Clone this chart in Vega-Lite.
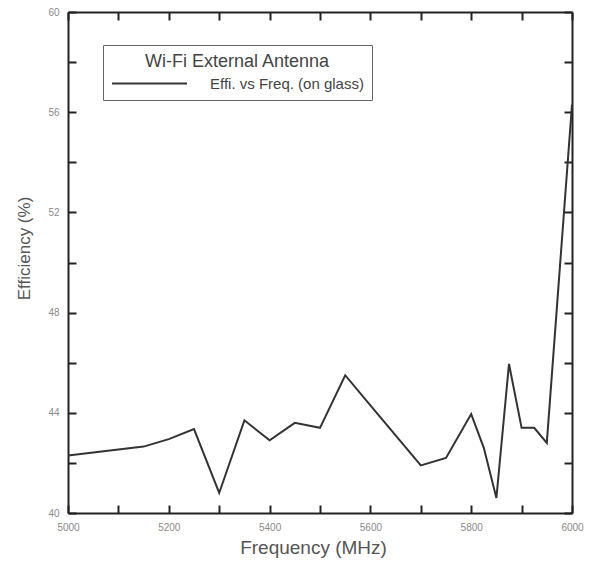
{
  "$schema": "https://vega.github.io/schema/vega-lite/v6.json",
  "autosize": "none",
  "width": 504,
  "height": 501,
  "padding": {"left": 68, "top": 12, "right": 21, "bottom": 53},
  "background": "white",
  "config": {
    "font": "Liberation Sans",
    "view": {"stroke": null},
    "axis": {
      "grid": false,
      "domainColor": "#222",
      "domainWidth": 2,
      "tickColor": "#222",
      "tickWidth": 2,
      "tickSize": -8,
      "labelColor": "#8a8a8a",
      "labelFontSize": 10,
      "labelFlush": false,
      "titleColor": "#555",
      "titleFontSize": 16,
      "titleFontWeight": "normal"
    }
  },
  "data": {
    "values": [
      {"freq": 5000, "eff": 42.3, "series": "Effi. vs Freq. (on glass)"},
      {"freq": 5150, "eff": 42.65, "series": "Effi. vs Freq. (on glass)"},
      {"freq": 5200, "eff": 42.95, "series": "Effi. vs Freq. (on glass)"},
      {"freq": 5250, "eff": 43.35, "series": "Effi. vs Freq. (on glass)"},
      {"freq": 5300, "eff": 40.8, "series": "Effi. vs Freq. (on glass)"},
      {"freq": 5350, "eff": 43.7, "series": "Effi. vs Freq. (on glass)"},
      {"freq": 5400, "eff": 42.9, "series": "Effi. vs Freq. (on glass)"},
      {"freq": 5450, "eff": 43.6, "series": "Effi. vs Freq. (on glass)"},
      {"freq": 5500, "eff": 43.4, "series": "Effi. vs Freq. (on glass)"},
      {"freq": 5550, "eff": 45.5, "series": "Effi. vs Freq. (on glass)"},
      {"freq": 5600, "eff": 44.3, "series": "Effi. vs Freq. (on glass)"},
      {"freq": 5700, "eff": 41.9, "series": "Effi. vs Freq. (on glass)"},
      {"freq": 5750, "eff": 42.2, "series": "Effi. vs Freq. (on glass)"},
      {"freq": 5800, "eff": 43.95, "series": "Effi. vs Freq. (on glass)"},
      {"freq": 5825, "eff": 42.6, "series": "Effi. vs Freq. (on glass)"},
      {"freq": 5850, "eff": 40.6, "series": "Effi. vs Freq. (on glass)"},
      {"freq": 5875, "eff": 45.95, "series": "Effi. vs Freq. (on glass)"},
      {"freq": 5900, "eff": 43.4, "series": "Effi. vs Freq. (on glass)"},
      {"freq": 5925, "eff": 43.4, "series": "Effi. vs Freq. (on glass)"},
      {"freq": 5950, "eff": 42.8, "series": "Effi. vs Freq. (on glass)"},
      {"freq": 6000, "eff": 56.3, "series": "Effi. vs Freq. (on glass)"}
    ]
  },
  "layer": [
    {
      "mark": {"type": "line", "strokeWidth": 2},
      "encoding": {
        "x": {
          "field": "freq", "type": "quantitative",
          "scale": {"domain": [5000, 6000], "nice": false, "zero": false},
          "axis": {
            "title": "Frequency (MHz)",
            "values": [5000, 5100, 5200, 5300, 5400, 5500, 5600, 5700, 5800, 5900, 6000],
            "format": "d",
            "labelExpr": "datum.value % 200 === 0 ? datum.label : ''",
            "labelPadding": 17,
            "titlePadding": 6,
            "titleFontSize": 19,
            "titleX": 245
          }
        },
        "y": {
          "field": "eff", "type": "quantitative",
          "scale": {"domain": [40, 60], "nice": false, "zero": false},
          "axis": {
            "title": "Efficiency (%)",
            "values": [40, 42, 44, 46, 48, 50, 52, 54, 56, 58, 60],
            "labelExpr": "datum.value % 4 === 0 ? datum.label : ''",
            "labelPadding": 17,
            "titlePadding": 14,
            "titleFontSize": 17,
            "titleY": 236
          }
        },
        "color": {
          "field": "series", "type": "nominal",
          "scale": {"range": ["#333333"]},
          "legend": {
            "title": "Wi-Fi External Antenna",
            "orient": "none",
            "legendX": 35,
            "legendY": 33,
            "titleFontSize": 18,
            "titleFontWeight": "normal",
            "titleColor": "#444",
            "titleAnchor": "middle",
            "titleAlign": "center",
            "titlePadding": 4,
            "titleLimit": 400,
            "labelFontSize": 15,
            "labelLimit": 300,
            "labelColor": "#444",
            "labelOffset": 82,
            "symbolType": "M-1,0H9",
            "symbolSize": 225,
            "symbolStrokeWidth": 2,
            "symbolStrokeColor": "#333",
            "symbolFillColor": "transparent",
            "strokeColor": "#666",
            "padding": 8,
            "fillColor": "white"
          }
        }
      }
    },
    {
      "mark": {"type": "line", "opacity": 0},
      "encoding": {
        "x": {
          "field": "freq", "type": "quantitative",
          "axis": {"orient": "top", "title": null, "labels": false,
            "values": [5000, 5100, 5200, 5300, 5400, 5500, 5600, 5700, 5800, 5900, 6000]}
        },
        "y": {
          "field": "eff", "type": "quantitative",
          "axis": {"orient": "right", "title": null, "labels": false,
            "values": [40, 42, 44, 46, 48, 50, 52, 54, 56, 58, 60]}
        }
      }
    }
  ],
  "resolve": {"axis": {"x": "independent", "y": "independent"}}
}
